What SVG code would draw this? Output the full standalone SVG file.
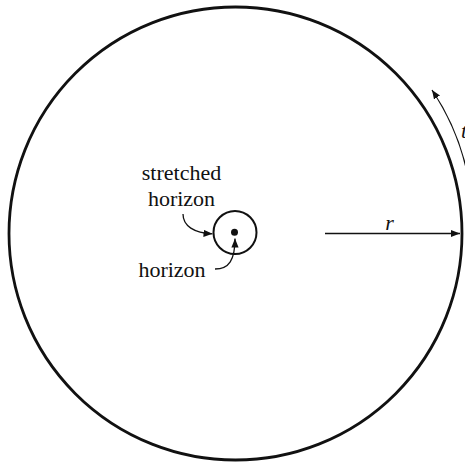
<svg xmlns="http://www.w3.org/2000/svg" width="465" height="462" viewBox="0 0 465 462">
<defs>
<style>
text{font-family:"Liberation Serif","Times New Roman",serif;font-size:22px;fill:#111}
.it{font-style:italic}
.ln{fill:none;stroke:#111;stroke-width:1.3}
</style>
<marker id="ah" viewBox="0 0 10 10" refX="10" refY="5" markerWidth="9" markerHeight="9" markerUnits="userSpaceOnUse" orient="auto">
<path d="M0,1 L10,5 L0,9 z" fill="#111"/>
</marker>
</defs>
<rect width="465" height="462" fill="#fff"/>
<g id="outer">
<circle cx="235.5" cy="233.5" r="226.5" fill="none" stroke="#111" stroke-width="2.8"/>
</g>
<g id="stretched-horizon">
<circle cx="235" cy="232.5" r="21.5" fill="none" stroke="#111" stroke-width="2"/>
<text x="181.5" y="180" text-anchor="middle">stretched</text>
<text x="181.5" y="205.5" text-anchor="middle">horizon</text>
</g>
<g id="horizon">
<circle cx="234.5" cy="232.3" r="3.5" fill="#111"/>
<text x="172" y="276.5" text-anchor="middle">horizon</text>
</g>
<g id="labels">
<text class="it" x="389.5" y="230" text-anchor="middle">r</text>
<text class="it" x="461" y="138">t</text>
</g>
<g id="connectors">
<path class="ln" d="M183 214 C183 226 194 233 212.5 233.8" marker-end="url(#ah)"/>
<path class="ln" d="M215 269 C229 269 235 260 235 238.5" marker-end="url(#ah)"/>
<path class="ln" d="M325 233.5 L460 233.5" marker-end="url(#ah)"/>
<path class="ln" d="M469 182 A 240 240 0 0 0 432 90" marker-end="url(#ah)"/>
</g>
</svg>
